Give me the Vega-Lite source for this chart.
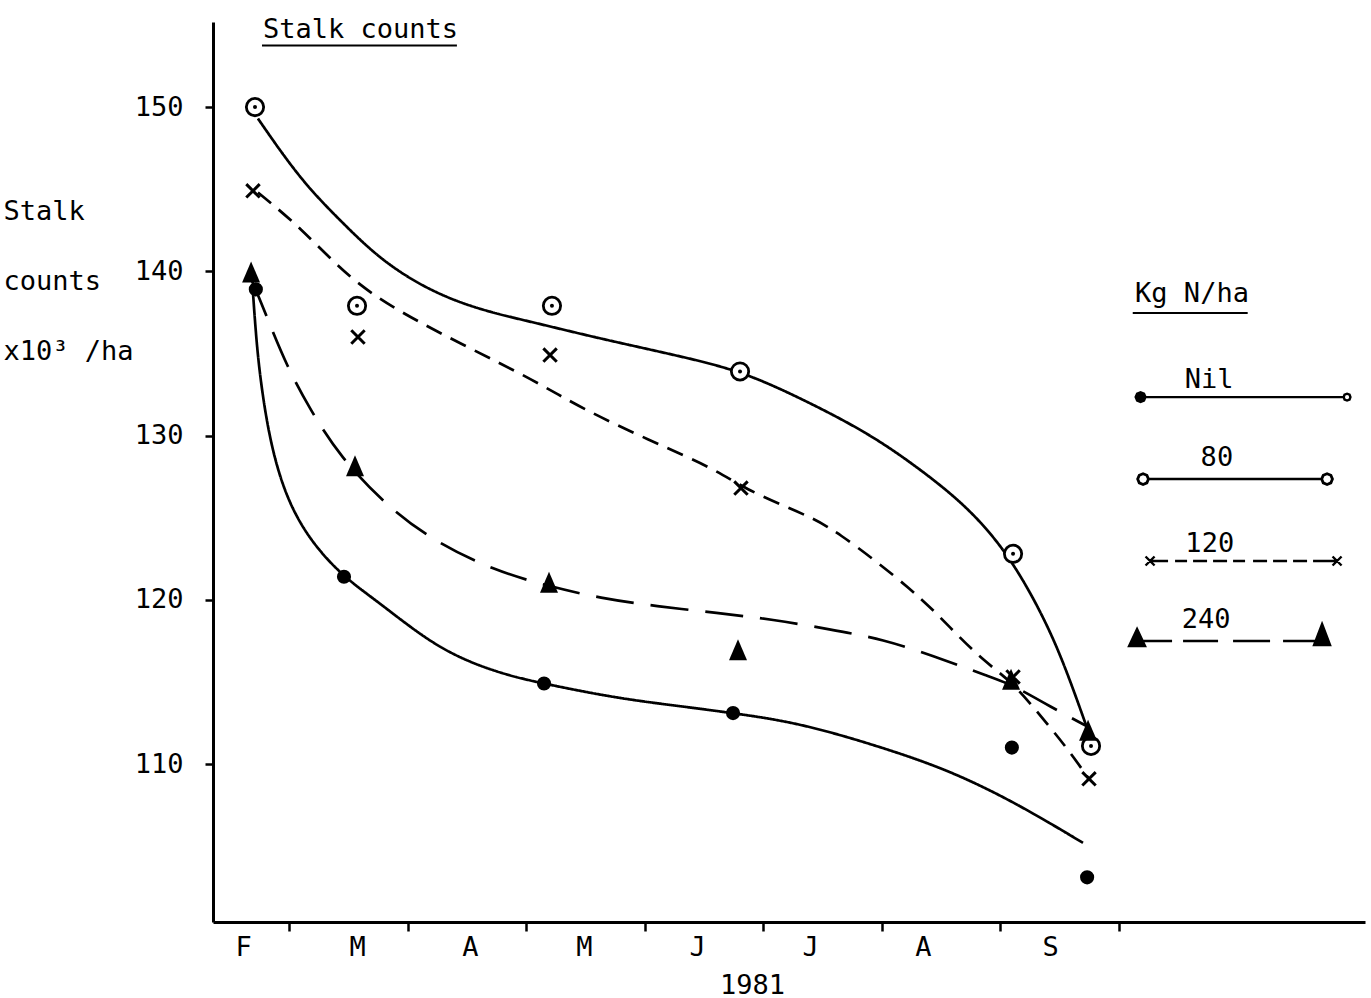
{
  "$schema": "https://vega.github.io/schema/vega-lite/v6.json",
  "width": 1152,
  "height": 900,
  "autosize": {"type": "none"},
  "padding": {"left": 213, "top": 22, "right": 6, "bottom": 76},
  "background": "white",
  "datasets": {
    "observed": [
      {"rate": "Nil", "month": 0.720, "stalks": 138.9},
      {"rate": "Nil", "month": 1.464, "stalks": 121.4},
      {"rate": "Nil", "month": 3.152, "stalks": 114.9},
      {"rate": "Nil", "month": 4.747, "stalks": 113.1},
      {"rate": "Nil", "month": 7.100, "stalks": 111.0},
      {"rate": "Nil", "month": 7.735, "stalks": 103.1},
      {"rate": "80", "month": 0.713, "stalks": 150.0},
      {"rate": "80", "month": 1.574, "stalks": 137.9},
      {"rate": "80", "month": 3.219, "stalks": 137.9},
      {"rate": "80", "month": 4.806, "stalks": 133.9},
      {"rate": "80", "month": 7.110, "stalks": 122.8},
      {"rate": "80", "month": 7.768, "stalks": 111.1},
      {"rate": "120", "month": 0.696, "stalks": 144.9},
      {"rate": "120", "month": 1.582, "stalks": 136.0},
      {"rate": "120", "month": 3.203, "stalks": 134.9},
      {"rate": "120", "month": 4.814, "stalks": 126.8},
      {"rate": "120", "month": 7.110, "stalks": 115.3},
      {"rate": "120", "month": 7.751, "stalks": 109.1},
      {"rate": "240", "month": 0.680, "stalks": 139.9},
      {"rate": "240", "month": 1.557, "stalks": 128.1},
      {"rate": "240", "month": 3.194, "stalks": 121.0},
      {"rate": "240", "month": 4.789, "stalks": 116.9},
      {"rate": "240", "month": 7.093, "stalks": 115.1},
      {"rate": "240", "month": 7.743, "stalks": 112.0}
    ],
    "fitted": [
      {"rate": "Nil", "month": 0.696, "stalks": 138.7},
      {"rate": "Nil", "month": 0.730, "stalks": 135.2},
      {"rate": "Nil", "month": 0.781, "stalks": 132.2},
      {"rate": "Nil", "month": 0.857, "stalks": 129.1},
      {"rate": "Nil", "month": 0.983, "stalks": 126.1},
      {"rate": "Nil", "month": 1.177, "stalks": 123.6},
      {"rate": "Nil", "month": 1.456, "stalks": 121.4},
      {"rate": "Nil", "month": 1.768, "stalks": 119.8},
      {"rate": "Nil", "month": 2.274, "stalks": 116.9},
      {"rate": "Nil", "month": 2.781, "stalks": 115.5},
      {"rate": "Nil", "month": 3.143, "stalks": 114.9},
      {"rate": "Nil", "month": 3.768, "stalks": 114.0},
      {"rate": "Nil", "month": 4.325, "stalks": 113.5},
      {"rate": "Nil", "month": 4.747, "stalks": 113.1},
      {"rate": "Nil", "month": 5.312, "stalks": 112.5},
      {"rate": "Nil", "month": 6.013, "stalks": 111.0},
      {"rate": "Nil", "month": 6.578, "stalks": 109.6},
      {"rate": "Nil", "month": 7.143, "stalks": 107.6},
      {"rate": "Nil", "month": 7.700, "stalks": 105.2},
      {"rate": "80", "month": 0.738, "stalks": 149.3},
      {"rate": "80", "month": 1.093, "stalks": 145.6},
      {"rate": "80", "month": 1.430, "stalks": 143.1},
      {"rate": "80", "month": 1.785, "stalks": 140.6},
      {"rate": "80", "month": 2.215, "stalks": 138.7},
      {"rate": "80", "month": 2.637, "stalks": 137.6},
      {"rate": "80", "month": 3.059, "stalks": 136.9},
      {"rate": "80", "month": 3.624, "stalks": 135.9},
      {"rate": "80", "month": 4.325, "stalks": 134.8},
      {"rate": "80", "month": 4.823, "stalks": 133.9},
      {"rate": "80", "month": 5.312, "stalks": 132.3},
      {"rate": "80", "month": 5.878, "stalks": 130.2},
      {"rate": "80", "month": 6.300, "stalks": 128.1},
      {"rate": "80", "month": 6.722, "stalks": 125.7},
      {"rate": "80", "month": 7.059, "stalks": 122.9},
      {"rate": "80", "month": 7.338, "stalks": 119.4},
      {"rate": "80", "month": 7.532, "stalks": 116.3},
      {"rate": "80", "month": 7.734, "stalks": 112.2},
      {"rate": "120", "month": 0.738, "stalks": 144.8},
      {"rate": "120", "month": 1.093, "stalks": 142.7},
      {"rate": "120", "month": 1.515, "stalks": 139.5},
      {"rate": "120", "month": 1.937, "stalks": 137.5},
      {"rate": "120", "month": 2.502, "stalks": 135.4},
      {"rate": "120", "month": 3.059, "stalks": 133.4},
      {"rate": "120", "month": 3.481, "stalks": 131.6},
      {"rate": "120", "month": 4.046, "stalks": 129.7},
      {"rate": "120", "month": 4.612, "stalks": 127.9},
      {"rate": "120", "month": 4.831, "stalks": 126.8},
      {"rate": "120", "month": 5.312, "stalks": 125.3},
      {"rate": "120", "month": 5.591, "stalks": 124.4},
      {"rate": "120", "month": 6.300, "stalks": 120.4},
      {"rate": "120", "month": 6.578, "stalks": 118.3},
      {"rate": "120", "month": 6.857, "stalks": 116.3},
      {"rate": "120", "month": 7.084, "stalks": 115.1},
      {"rate": "120", "month": 7.278, "stalks": 113.5},
      {"rate": "120", "month": 7.565, "stalks": 111.0},
      {"rate": "120", "month": 7.759, "stalks": 109.0},
      {"rate": "240", "month": 0.688, "stalks": 139.4},
      {"rate": "240", "month": 0.730, "stalks": 138.7},
      {"rate": "240", "month": 0.814, "stalks": 137.2},
      {"rate": "240", "month": 0.983, "stalks": 134.2},
      {"rate": "240", "month": 1.177, "stalks": 131.6},
      {"rate": "240", "month": 1.430, "stalks": 128.7},
      {"rate": "240", "month": 1.827, "stalks": 125.7},
      {"rate": "240", "month": 2.215, "stalks": 123.6},
      {"rate": "240", "month": 2.722, "stalks": 121.8},
      {"rate": "240", "month": 3.203, "stalks": 120.8},
      {"rate": "240", "month": 3.624, "stalks": 120.1},
      {"rate": "240", "month": 4.105, "stalks": 119.6},
      {"rate": "240", "month": 4.612, "stalks": 119.2},
      {"rate": "240", "month": 5.084, "stalks": 118.8},
      {"rate": "240", "month": 5.565, "stalks": 118.2},
      {"rate": "240", "month": 6.013, "stalks": 117.6},
      {"rate": "240", "month": 6.468, "stalks": 116.5},
      {"rate": "240", "month": 6.916, "stalks": 115.3},
      {"rate": "240", "month": 7.110, "stalks": 114.8},
      {"rate": "240", "month": 7.422, "stalks": 113.5},
      {"rate": "240", "month": 7.734, "stalks": 112.3}
    ],
    "key": [
      {"rate": "Nil"},
      {"rate": "80"},
      {"rate": "120"},
      {"rate": "240"}
    ]
  },
  "layer": [
    {
      "data": {"name": "key"},
      "transform": [{"filter": "datum.rate == 'Nil'"}],
      "mark": {"type": "text", "text": "Stalk counts", "align": "left", "baseline": "alphabetic", "font": "DejaVu Sans Mono", "fontSize": 27, "color": "black"},
      "encoding": {
        "x": {"datum": 0.781, "type": "quantitative", "scale": {"domain": [0.3586, 10.08], "nice": false, "zero": false}},
        "y": {"datum": 154.2, "type": "quantitative", "scale": {"domain": [100.38, 155.18], "nice": false, "zero": false}}
      }
    },
    {
      "data": {"name": "key"},
      "transform": [{"filter": "datum.rate == 'Nil'"}],
      "mark": {"type": "rule", "color": "black", "strokeWidth": 2.2},
      "encoding": {"x": {"datum": 0.772, "type": "quantitative"}, "x2": {"datum": 2.417}, "y": {"datum": 153.75, "type": "quantitative"}}
    },
    {
      "data": {"name": "key"},
      "transform": [{"filter": "datum.rate == 'Nil'"}],
      "mark": {"type": "text", "text": "Kg N/ha", "align": "left", "baseline": "alphabetic", "font": "DejaVu Sans Mono", "fontSize": 27, "color": "black"},
      "encoding": {"x": {"datum": 8.14, "type": "quantitative"}, "y": {"datum": 138.13, "type": "quantitative"}}
    },
    {
      "data": {"name": "key"},
      "transform": [{"filter": "datum.rate == 'Nil'"}],
      "mark": {"type": "rule", "color": "black", "strokeWidth": 2.2},
      "encoding": {"x": {"datum": 8.12, "type": "quantitative"}, "x2": {"datum": 9.09}, "y": {"datum": 137.46, "type": "quantitative"}}
    },
    {
      "data": {"name": "fitted"},
      "mark": {"type": "line", "interpolate": "basis", "color": "black", "strokeWidth": 2.7},
      "encoding": {
        "x": {
          "field": "month",
          "type": "quantitative",
          "axis": {
            "values": [0.612, 1, 1.574, 2, 2.527, 3, 3.489, 4, 4.443, 5, 5.397, 6, 6.350, 7, 7.422, 8],
            "labelExpr": "datum.value % 1 == 0 ? '' : ['F','M','A','M','J','J','A','S'][floor(datum.value)]",
            "tickOpacity": {"condition": {"test": "datum.value % 1 == 0", "value": 1}, "value": 0},
            "tickSize": 9,
            "labelPadding": 3,
            "labelOverlap": false,
            "labelFlush": false,
            "labelBound": false,
            "title": "1981",
            "titleX": 539,
            "titleY": 71,
            "titleAlign": "center",
            "titleBaseline": "alphabetic"
          }
        },
        "y": {
          "field": "stalks",
          "type": "quantitative",
          "axis": {
            "values": [110, 120, 130, 140, 150],
            "tickSize": 8,
            "labelPadding": 22,
            "title": ["Stalk", "counts", "x10³ /ha"],
            "titleAngle": 0,
            "titleAlign": "left",
            "titleBaseline": "alphabetic",
            "titleX": -210,
            "titleY": 197,
            "titleLineHeight": 70
          }
        },
        "detail": {"field": "rate"},
        "strokeDash": {
          "field": "rate",
          "type": "nominal",
          "scale": {"domain": ["Nil", "80", "120", "240"], "range": [[1, 0], [1, 0], [17, 10], [38, 17]]},
          "legend": null
        }
      }
    },
    {
      "data": {"name": "observed"},
      "transform": [{"filter": "datum.rate == 'Nil'"}],
      "mark": {"type": "point", "shape": "circle", "filled": true, "fill": "black", "size": 200, "opacity": 1},
      "encoding": {"x": {"field": "month", "type": "quantitative"}, "y": {"field": "stalks", "type": "quantitative"}}
    },
    {
      "data": {"name": "observed"},
      "transform": [{"filter": "datum.rate == '80'"}],
      "mark": {"type": "point", "shape": "circle", "filled": true, "fill": "white", "stroke": "black", "strokeWidth": 2.8, "size": 300, "opacity": 1},
      "encoding": {"x": {"field": "month", "type": "quantitative"}, "y": {"field": "stalks", "type": "quantitative"}}
    },
    {
      "data": {"name": "observed"},
      "transform": [{"filter": "datum.rate == '80'"}],
      "mark": {"type": "point", "shape": "circle", "filled": true, "fill": "black", "size": 16, "opacity": 1},
      "encoding": {"x": {"field": "month", "type": "quantitative"}, "y": {"field": "stalks", "type": "quantitative"}}
    },
    {
      "data": {"name": "observed"},
      "transform": [{"filter": "datum.rate == '120'"}],
      "mark": {"type": "point", "shape": "M-1,-1L1,1M1,-1L-1,1", "filled": false, "stroke": "black", "strokeWidth": 3, "size": 180, "opacity": 1},
      "encoding": {"x": {"field": "month", "type": "quantitative"}, "y": {"field": "stalks", "type": "quantitative"}}
    },
    {
      "data": {"name": "observed"},
      "transform": [{"filter": "datum.rate == '240'"}],
      "mark": {"type": "point", "shape": "M0,-1.15L0.9,0.95L-0.9,0.95Z", "filled": true, "fill": "black", "size": 400, "opacity": 1},
      "encoding": {"x": {"field": "month", "type": "quantitative"}, "y": {"field": "stalks", "type": "quantitative"}}
    },
    {
      "data": {"name": "key"},
      "transform": [{"filter": "datum.rate == 'Nil'"}],
      "mark": {"type": "point", "filled": true, "fill": "black", "stroke": "black", "strokeWidth": 2.2, "size": 40000, "opacity": 1,
        "shape": "M-1.0,0H1.01M-0.975,0L-0.99,0.035L-1.025,0.05L-1.06,0.035L-1.075,0L-1.06,-0.035L-1.025,-0.05L-0.99,-0.035ZM1.075,0L1.066,-0.025L1.04,-0.035L1.014,-0.025L1.005,0L1.014,0.025L1.04,0.035L1.066,0.025ZM1.073,0L1.064,0.023L1.04,0.033L1.016,0.023L1.007,0L1.016,-0.023L1.04,-0.033L1.064,-0.023Z"},
      "encoding": {"x": {"datum": 9.051, "type": "quantitative"}, "y": {"datum": 132.34, "type": "quantitative"}}
    },
    {
      "data": {"name": "key"},
      "transform": [{"filter": "datum.rate == '80'"}],
      "mark": {"type": "point", "filled": true, "fill": "black", "stroke": "black", "strokeWidth": 2.6, "size": 40000, "opacity": 1,
        "shape": "M-0.945,0H0.785M-0.945,0L-0.961,-0.039L-1.0,-0.055L-1.039,-0.039L-1.055,0L-1.039,0.039L-1.0,0.055L-0.961,0.039ZM-0.947,0L-0.963,0.037L-1.0,0.053L-1.037,0.037L-1.053,0L-1.037,-0.037L-1.0,-0.053L-0.963,-0.037ZM0.895,0L0.879,-0.039L0.84,-0.055L0.801,-0.039L0.785,0L0.801,0.039L0.84,0.055L0.879,0.039ZM0.893,0L0.877,0.037L0.84,0.053L0.803,0.037L0.787,0L0.803,-0.037L0.84,-0.053L0.877,-0.037Z"},
      "encoding": {"x": {"datum": 9.051, "type": "quantitative"}, "y": {"datum": 127.35, "type": "quantitative"}}
    },
    {
      "data": {"name": "key"},
      "transform": [{"filter": "datum.rate == '120'"}],
      "mark": {"type": "point", "filled": true, "fill": "black", "stroke": "black", "strokeWidth": 2.4, "size": 40000, "opacity": 1,
        "shape": "M-0.93,0H-0.75M-0.68,0H-0.56M-0.50,0H-0.36M-0.30,0H-0.16M-0.10,0H0.02M0.10,0H0.24M0.30,0H0.44M0.50,0H0.64M0.70,0H0.94M-0.975,-0.045L-0.885,0.045M-0.975,0.045L-0.885,-0.045M0.895,-0.045L0.985,0.045M0.895,0.045L0.985,-0.045"},
      "encoding": {"x": {"datum": 9.051, "type": "quantitative"}, "y": {"datum": 122.36, "type": "quantitative"}}
    },
    {
      "data": {"name": "key"},
      "transform": [{"filter": "datum.rate == '240'"}],
      "mark": {"type": "point", "filled": true, "fill": "black", "stroke": "black", "strokeWidth": 2.4, "size": 40000, "opacity": 1,
        "shape": "M-1.06,0H-0.71M-0.60,0H-0.25M-0.10,0H0.27M0.40,0H0.79M-1.06,-0.12L-0.98,0.05L-1.14,0.05ZM0.79,-0.17L0.87,0.04L0.71,0.04Z"},
      "encoding": {"x": {"datum": 9.051, "type": "quantitative"}, "y": {"datum": 117.49, "type": "quantitative"}}
    },
    {
      "data": {"name": "key"},
      "transform": [{"filter": "datum.rate == 'Nil'"}],
      "mark": {"type": "text", "align": "center", "baseline": "alphabetic", "dy": -9, "font": "DejaVu Sans Mono", "fontSize": 27, "color": "black"},
      "encoding": {"text": {"field": "rate"}, "x": {"datum": 8.764, "type": "quantitative"}, "y": {"datum": 132.34, "type": "quantitative"}}
    },
    {
      "data": {"name": "key"},
      "transform": [{"filter": "datum.rate == '80'"}],
      "mark": {"type": "text", "align": "center", "baseline": "alphabetic", "dy": -13, "font": "DejaVu Sans Mono", "fontSize": 27, "color": "black"},
      "encoding": {"text": {"field": "rate"}, "x": {"datum": 8.83, "type": "quantitative"}, "y": {"datum": 127.35, "type": "quantitative"}}
    },
    {
      "data": {"name": "key"},
      "transform": [{"filter": "datum.rate == '120'"}],
      "mark": {"type": "text", "align": "center", "baseline": "alphabetic", "dy": -9, "font": "DejaVu Sans Mono", "fontSize": 27, "color": "black"},
      "encoding": {"text": {"field": "rate"}, "x": {"datum": 8.77, "type": "quantitative"}, "y": {"datum": 122.36, "type": "quantitative"}}
    },
    {
      "data": {"name": "key"},
      "transform": [{"filter": "datum.rate == '240'"}],
      "mark": {"type": "text", "align": "center", "baseline": "alphabetic", "dy": -13, "font": "DejaVu Sans Mono", "fontSize": 27, "color": "black"},
      "encoding": {"text": {"field": "rate"}, "x": {"datum": 8.74, "type": "quantitative"}, "y": {"datum": 117.49, "type": "quantitative"}}
    }
  ],
  "config": {
    "view": {"stroke": null},
    "font": "DejaVu Sans Mono",
    "axis": {
      "grid": false,
      "domainColor": "black",
      "domainWidth": 3,
      "tickColor": "black",
      "tickWidth": 2.5,
      "labelFont": "DejaVu Sans Mono",
      "labelFontSize": 27,
      "labelColor": "black",
      "titleFont": "DejaVu Sans Mono",
      "titleFontSize": 27,
      "titleFontWeight": "normal",
      "titleColor": "black"
    }
  }
}
